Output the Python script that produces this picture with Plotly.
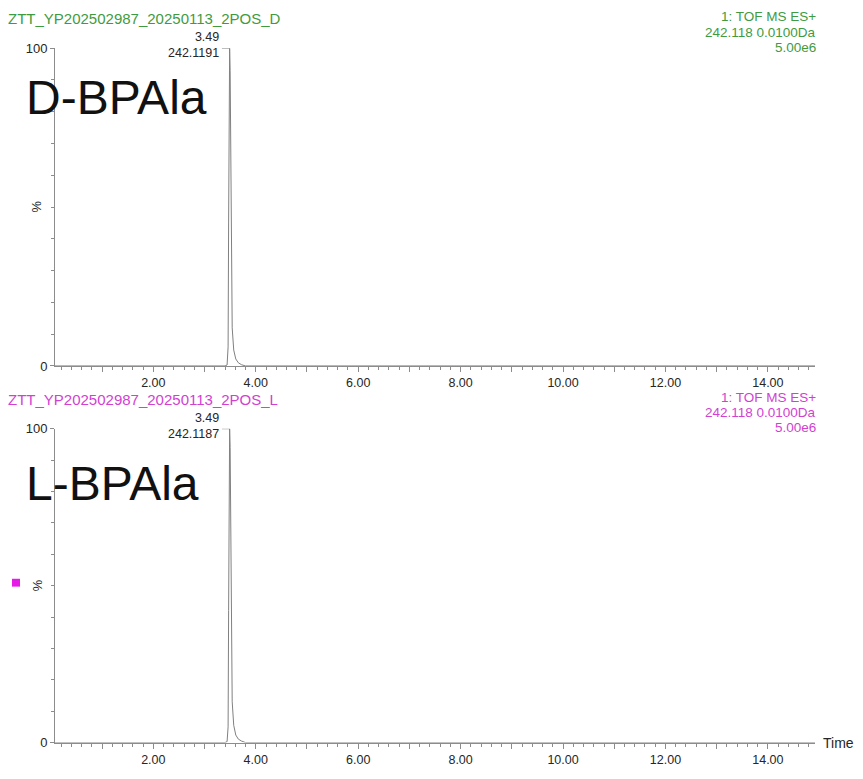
import plotly.graph_objects as go

# Extracted-ion chromatograms, m/z 242.118 +/- 0.0100 Da (TOF MS ES+)
rt_min = [0.08, 3.40, 3.44, 3.46, 3.47, 3.48, 3.49, 3.50, 3.51, 3.52, 3.54,
          3.57, 3.61, 3.66, 3.72, 3.80, 14.92]
d_intensity = [0.0, 0.0, 0.3, 6.0, 45.0, 92.0, 100.0, 93.0, 62.0, 30.0, 12.0,
               5.0, 2.2, 1.0, 0.4, 0.0, 0.0]
l_intensity = [0.0, 0.0, 0.3, 5.0, 42.0, 90.0, 100.0, 94.0, 64.0, 32.0, 13.0,
               5.5, 2.4, 1.1, 0.5, 0.0, 0.0]

samples = ["ZTT_YP202502987_20250113_2POS_D", "ZTT_YP202502987_20250113_2POS_L"]
compounds = ["D-BPAla", "L-BPAla"]
peak_rt = [3.49, 3.49]
peak_mz = ["242.1191", "242.1187"]
function_info = ["1: TOF MS ES+", "242.118 0.0100Da", "5.00e6"]
x_tick_vals = [1, 2, 3, 4, 5, 6, 7, 8, 9, 10, 11, 12, 13, 14]
x_tick_text = ["", "2.00", "", "4.00", "", "6.00", "", "8.00", "", "10.00",
               "", "12.00", "", "14.00"]
y_tick_vals = [0, 100]
y_tick_text = ["0", "100"]

W, H = 863, 779
FONT = "Liberation Sans, Arial, sans-serif"
AXIS_GREY = "#8c8c8c"
TRACE_GREY = "#808080"
TEXT_DARK = "#262626"
header_colors = ["#3f9b3f", "#d23fd2"]

# panel geometry in pixels (top, bottom), x extent, compound-name offset
panels_px = [(42, 366), (430, 750)]
name_offset_px = [50, 56]
x_left_px, x_right_px = 55, 815
x_range = [0.08, 14.92]

fig = go.Figure()

series = [d_intensity, l_intensity]
layout_axes = {}
annotations = []
shapes = []
for i, (top_px, bot_px) in enumerate(panels_px):
    xa = "x" if i == 0 else f"x{i + 1}"
    ya = "y" if i == 0 else f"y{i + 1}"
    fig.add_trace(go.Scatter(
        x=rt_min, y=series[i], mode="lines", xaxis=xa, yaxis=ya,
        line=dict(color=TRACE_GREY, width=1), showlegend=False,
        hoverinfo="skip",
    ))
    dom_y = [1 - bot_px / H, 1 - top_px / H]
    dom_x = [x_left_px / W, x_right_px / W]
    xkey = "xaxis" if i == 0 else f"xaxis{i + 1}"
    ykey = "yaxis" if i == 0 else f"yaxis{i + 1}"
    layout_axes[xkey] = dict(
        domain=dom_x, range=x_range, anchor=ya,
        showgrid=False, zeroline=False, showline=True,
        linecolor=AXIS_GREY, linewidth=1,
        tickmode="array", tickvals=x_tick_vals, ticktext=x_tick_text,
        ticks="outside", ticklen=5, tickcolor=AXIS_GREY, tickwidth=1,
        minor=dict(dtick=0.2, tick0=0, ticks="outside", ticklen=3,
                   tickcolor=AXIS_GREY, tickwidth=1, showgrid=False),
        tickfont=dict(family=FONT, size=12.5, color=TEXT_DARK),
        fixedrange=True,
    )
    layout_axes[ykey] = dict(
        domain=dom_y, range=[0, 100], anchor=xa,
        showgrid=False, zeroline=False, showline=True,
        linecolor=AXIS_GREY, linewidth=1,
        tickmode="array", tickvals=y_tick_vals, ticktext=y_tick_text,
        ticks="outside", ticklen=4, tickcolor=AXIS_GREY, tickwidth=1,
        minor=dict(dtick=10, tick0=0, ticks="outside", ticklen=3,
                   tickcolor=AXIS_GREY, tickwidth=1, showgrid=False),
        tickfont=dict(family=FONT, size=13, color=TEXT_DARK),
        fixedrange=True,
    )

    col = header_colors[i]
    # sample name, top-left
    annotations.append(dict(
        xref="paper", yref="paper", x=7 / W, y=1 - (top_px - 30) / H,
        xanchor="left", yanchor="middle", showarrow=False, borderpad=0,
        text=samples[i], font=dict(family=FONT, size=15, color=col)))
    # function description, top-right
    for k, line in enumerate(function_info):
        annotations.append(dict(
            xref="paper", yref="paper", x=(x_right_px + 2) / W,
            y=1 - (top_px - 32 + 15.5 * k) / H,
            xanchor="right", yanchor="middle", showarrow=False, borderpad=0,
            text=line, font=dict(family=FONT, size=13.5, color=col)))
    # peak label: retention time and m/z
    annotations.append(dict(
        xref=xa, yref=ya, x=peak_rt[i], y=100,
        xanchor="right", yanchor="bottom", xshift=-9, yshift=-14,
        showarrow=False, align="right",
        text=f"{peak_rt[i]:.2f}<br>{peak_mz[i]}",
        font=dict(family=FONT, size=12.5, color=TEXT_DARK)))
    # short bracket joining the label to the apex
    shapes.append(dict(
        type="line", xref=xa, yref=ya,
        x0=peak_rt[i] - 0.15, x1=peak_rt[i], y0=100, y1=100,
        line=dict(color=TRACE_GREY, width=1)))
    # compound name inside the panel
    annotations.append(dict(
        xref="paper", yref="paper", x=24 / W,
        y=1 - (top_px + name_offset_px[i]) / H,
        xanchor="left", yanchor="middle", showarrow=False,
        text=compounds[i], font=dict(family=FONT, size=48, color="#111111")))
    # rotated % axis title
    annotations.append(dict(
        xref="paper", yref="paper", x=37 / W, y=1 - (top_px + bot_px) / 2 / H,
        xanchor="center", yanchor="middle", showarrow=False, textangle=90,
        text="%", font=dict(family=FONT, size=13, color=TEXT_DARK)))

# time axis label at the end of the lower axis
annotations.append(dict(
    xref="paper", yref="paper", x=(x_right_px + 6) / W, y=1 - panels_px[1][1] / H,
    xanchor="left", yanchor="middle", showarrow=False,
    text="Time", font=dict(family=FONT, size=14, color=TEXT_DARK)))

# marker square beside the lower trace
shapes.append(dict(
    type="rect", xref="paper", yref="paper",
    x0=12 / W, x1=20 / W, y0=1 - 591 / H, y1=1 - 583 / H,
    fillcolor="#e619e6", line=dict(width=0)))

fig.update_layout(
    width=W, height=H, margin=dict(l=0, r=0, t=0, b=0),
    paper_bgcolor="white", plot_bgcolor="white",
    annotations=annotations, shapes=shapes, **layout_axes,
)

fig.write_html("out.html")
